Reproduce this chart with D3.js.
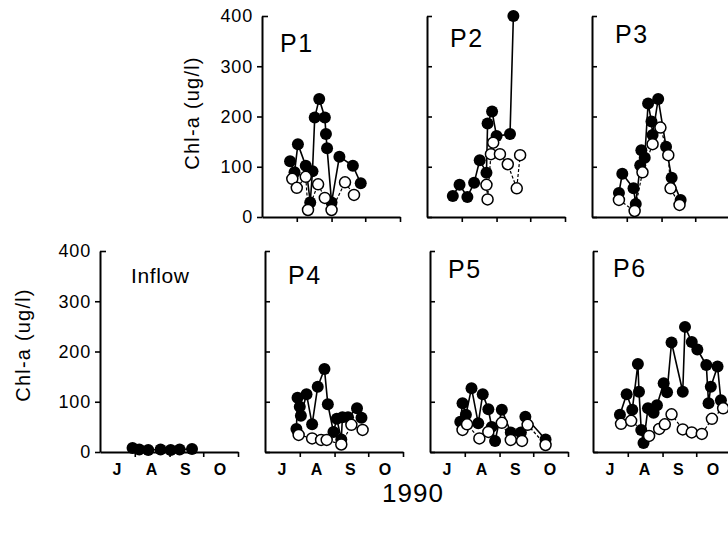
<!DOCTYPE html>
<html><head><meta charset="utf-8">
<script src="https://cdn.jsdelivr.net/npm/d3@7"></script>
<style>
body{margin:0;background:#fff;}
svg{display:block;font-family:"Liberation Sans",Arial,Helvetica,sans-serif;}
</style></head><body>
<svg id="chart" width="728" height="538"></svg>
<script>
// ---------------- DATA ----------------
const year = "1990";
const monthLabels = ["J", "A", "S", "O"];
const monthStarts = ["07-01", "08-01", "09-01", "10-01", "11-01"];
const monthMids = ["07-16", "08-16", "09-15", "10-16"];
const yTicks = [0, 100, 200, 300, 400];
const yLabel = "Chl-a (ug/l)";
const panelNames = ["P1", "P2", "P3", "Inflow", "P4", "P5", "P6"];

// filled circles and open circles: [month-day, Chl-a ug/l]
const p1Filled = [["07-26",111],["07-30",89],["08-02",145],["08-09",102],["08-13",29],["08-15",91],["08-17",198],["08-21",235],["08-26",198],["08-27",165],["08-28",137],["09-01",29],["09-08",120],["09-20",102],["09-27",67]];
const p1Open = [["07-28",76],["08-01",58],["08-09",80],["08-11",14],["08-20",65],["08-26",38],["09-01",14],["09-13",69],["09-21",44]];

const p2Filled = [["07-24",42],["07-30",64],["08-06",40],["08-12",68],["08-17",113],["08-23",88],["08-24",186],["08-28",210],["09-01",161],["09-13",165],["09-16",400]];
const p2Open = [["08-23",64],["08-24",35],["08-27",125],["08-29",148],["09-04",125],["09-11",105],["09-19",57],["09-22",123]];

const p3Filled = [["07-25",48],["07-28",86],["08-07",57],["08-09",26],["08-13",103],["08-14",133],["08-17",118],["08-20",226],["08-23",190],["08-24",163],["08-29",235],["09-05",140],["09-10",78],["09-18",34]];
const p3Open = [["07-25",34],["08-08",12],["08-15",89],["08-24",145],["08-31",178],["09-07",123],["09-09",57],["09-17",24]];

const inflowFilled = [["07-30",8],["08-05",5],["08-13",4],["08-24",5],["09-02",4],["09-10",5],["09-21",6]];
const inflowOpen = [];

const p4Filled = [["07-29",46],["07-30",108],["08-01",90],["08-02",72],["08-07",115],["08-12",55],["08-17",130],["08-23",165],["08-26",95],["08-31",40],["09-03",66],["09-07",25],["09-08",69],["09-13",69],["09-21",87],["09-25",68]];
const p4Open = [["07-31",34],["08-12",27],["08-20",24],["08-25",24],["09-07",15],["09-16",54],["09-26",44]];

const p5Filled = [["07-28",60],["07-30",97],["08-02",74],["08-07",127],["08-13",57],["08-17",115],["08-22",85],["08-25",50],["08-28",22],["09-03",84],["09-11",39],["09-20",39],["09-24",70],["10-12",25]];
const p5Open = [["07-30",44],["08-03",55],["08-14",27],["08-22",40],["09-03",58],["09-11",24],["09-21",22],["09-26",54],["10-12",14]];

const p6Filled = [["07-25",74],["07-31",115],["08-05",84],["08-10",175],["08-11",120],["08-13",44],["08-15",18],["08-19",87],["08-24",78],["08-27",93],["09-02",137],["09-05",119],["09-09",218],["09-19",120],["09-21",249],["09-27",219],["10-02",204],["10-10",173],["10-12",97],["10-14",130],["10-20",170],["10-23",103]];
const p6Open = [["07-26",56],["08-04",62],["08-20",32],["08-29",46],["09-03",55],["09-09",75],["09-19",45],["09-27",39],["10-06",36],["10-15",66],["10-25",87]];

const seriesByPanel = {
  P1: [p1Filled, p1Open], P2: [p2Filled, p2Open], P3: [p3Filled, p3Open],
  Inflow: [inflowFilled, inflowOpen], P4: [p4Filled, p4Open], P5: [p5Filled, p5Open], P6: [p6Filled, p6Open]
};

// ---------------- LAYOUT ----------------
const layout = {
  P1:     {x0: 262, y0: 217, yLabels: true,  xLabels: false, tx: 280, ty: 52},
  P2:     {x0: 427, y0: 217, yLabels: false, xLabels: false, tx: 450, ty: 47},
  P3:     {x0: 592, y0: 217, yLabels: false, xLabels: false, tx: 615, ty: 43},
  Inflow: {x0: 100, y0: 452, yLabels: true,  xLabels: true,  tx: 131, ty: 283},
  P4:     {x0: 265, y0: 452, yLabels: false, xLabels: true,  tx: 288, ty: 284},
  P5:     {x0: 430, y0: 452, yLabels: false, xLabels: true,  tx: 448, ty: 278},
  P6:     {x0: 593, y0: 452, yLabels: false, xLabels: true,  tx: 613, ty: 277}
};
const PW = 138, PH = 201;

const parse = d3.timeParse("%Y-%m-%d");
const dt = s => parse(`${year}-${s}`);
const svg = d3.select("#chart");

panelNames.forEach(name => {
  const L = layout[name];
  const g = svg.append("g");
  const x = d3.scaleTime().domain([dt("07-01"), dt("11-01")]).range([L.x0, L.x0 + PW]);
  const y = d3.scaleLinear().domain([0, 400]).range([L.y0, L.y0 - PH]);

  // x axis
  const xa = g.append("g").attr("transform", `translate(0,${L.y0})`)
    .call(d3.axisBottom(x).tickValues(monthStarts.slice(1).map(dt)).tickSize(5).tickSizeOuter(0).tickFormat(""));
  xa.select(".domain").attr("stroke-width", 2);
  xa.selectAll(".tick line").attr("stroke-width", 1.6);

  if (L.xLabels) {
    g.selectAll(".mlab").data(monthLabels).join("text")
      .attr("x", (d, i) => x(dt(monthMids[i])))
      .attr("y", L.y0 + 23)
      .attr("text-anchor", "middle")
      .attr("font-size", 16).attr("font-weight", "bold")
      .text(d => d);
  }

  // y axis
  const ya = g.append("g").attr("transform", `translate(${L.x0},0)`);
  if (L.yLabels) {
    ya.call(d3.axisLeft(y).tickValues(yTicks).tickSize(5).tickPadding(4).tickSizeOuter(0));
    ya.selectAll(".tick text").attr("font-size", 18).attr("letter-spacing", 0.8).attr("fill", "#000")
      .attr("font-family", '"Liberation Sans",Arial,sans-serif');
    ya.selectAll(".tick").filter(d => d === 400).select("line").attr("x2", 6);
  } else {
    ya.call(d3.axisLeft(y).tickValues(yTicks).tickSize(-5).tickSizeOuter(0).tickFormat(""));
  }
  ya.select(".domain").attr("stroke-width", 2);
  ya.selectAll(".tick line").attr("stroke-width", 1.6);

  // title
  g.append("text").attr("x", L.tx).attr("y", L.ty)
    .attr("font-size", name === "Inflow" ? 21 : 25)
    .attr("letter-spacing", name === "Inflow" ? 0.6 : 1.5)
    .text(name);

  const [filled, open] = seriesByPanel[name];
  const line = d3.line().x(d => x(dt(d[0]))).y(d => y(d[1]));

  if (filled.length) g.append("path").datum(filled).attr("d", line)
    .attr("fill", "none").attr("stroke", "#000").attr("stroke-width", 1.6);
  if (open.length) g.append("path").datum(open).attr("d", line)
    .attr("fill", "none").attr("stroke", "#000").attr("stroke-width", 1.2).attr("stroke-dasharray", "3,2");

  g.selectAll(".fp").data(filled).join("circle")
    .attr("cx", d => x(dt(d[0]))).attr("cy", d => y(d[1])).attr("r", 6).attr("fill", "#000");
  g.selectAll(".op").data(open).join("circle")
    .attr("cx", d => x(dt(d[0]))).attr("cy", d => y(d[1])).attr("r", 5.5)
    .attr("fill", "#fff").attr("stroke", "#000").attr("stroke-width", 1.5);
});

// y axis titles
[[199, 113], [30, 345]].forEach(([cx, cy]) => {
  svg.append("text").attr("transform", `translate(${cx},${cy}) rotate(-90)`)
    .attr("text-anchor", "middle").attr("font-size", 20).attr("letter-spacing", 1.2)
    .text(yLabel);
});

// year label
svg.append("text").attr("x", 413).attr("y", 502).attr("text-anchor", "middle")
  .attr("font-size", 26).attr("letter-spacing", 1).text(year);
</script>
</body></html>
